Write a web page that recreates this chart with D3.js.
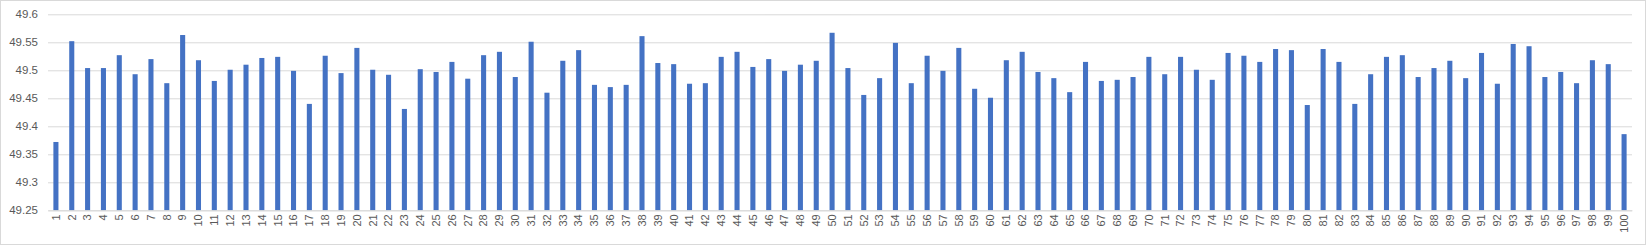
<!DOCTYPE html>
<html>
<head>
<meta charset="utf-8">
<script src="https://cdn.jsdelivr.net/npm/d3@7"></script>
<style>
  body { margin: 0; background: #fff; }
  svg { display: block; }
</style>
</head>
<body>
<svg id="chart"></svg>
<script>
// x categories 1..100
var categories = [];
for (var i = 1; i <= 100; i++) categories.push(String(i));

var values = [
  49.372, 49.552, 49.504, 49.504, 49.527, 49.493, 49.520, 49.477, 49.563, 49.518,
  49.481, 49.501, 49.510, 49.522, 49.524, 49.499, 49.440, 49.526, 49.495, 49.540,
  49.501, 49.492, 49.431, 49.502, 49.497, 49.515, 49.485, 49.527, 49.533, 49.488,
  49.551, 49.460, 49.517, 49.536, 49.474, 49.470, 49.474, 49.561, 49.513, 49.511,
  49.476, 49.477, 49.524, 49.533, 49.506, 49.520, 49.499, 49.510, 49.517, 49.567,
  49.504, 49.456, 49.486, 49.549, 49.477, 49.526, 49.499, 49.540, 49.467, 49.451,
  49.518, 49.533, 49.497, 49.486, 49.461, 49.515, 49.481, 49.483, 49.488, 49.524,
  49.493, 49.524, 49.501, 49.483, 49.531, 49.526, 49.515, 49.538, 49.536, 49.438,
  49.538, 49.515, 49.440, 49.493, 49.524, 49.527, 49.488, 49.504, 49.517, 49.486,
  49.531, 49.476, 49.547, 49.543, 49.488, 49.497, 49.477, 49.518, 49.511, 49.386
];

var yTicks = [49.25, 49.3, 49.35, 49.4, 49.45, 49.5, 49.55, 49.6];

function drawBarChart() {
  var width = 1646, height = 245;
  var margin = {top: 14.3, right: 14, bottom: 34.7, left: 48};
  var w = width - margin.left - margin.right;
  var h = height - margin.top - margin.bottom;

  var svg = d3.select('#chart')
      .attr('width', width)
      .attr('height', height);

  // outer chart border
  svg.append('rect')
      .attr('x', 0.5).attr('y', 0.5)
      .attr('width', width - 1).attr('height', height - 1)
      .attr('fill', '#fff')
      .attr('stroke', '#d9d9d9');

  var g = svg.append('g')
      .attr('transform', 'translate(' + margin.left + ',' + margin.top + ')');

  var x = d3.scaleBand()
      .domain(categories)
      .range([0, w])
      .paddingInner(0.68)
      .paddingOuter(0.34);

  var y = d3.scaleLinear()
      .domain([49.25, 49.6])
      .range([h, 0]);

  // gridlines + y labels
  var yAxis = g.append('g')
      .call(d3.axisLeft(y).tickValues(yTicks).tickSize(-w).tickPadding(10)
            .tickFormat(function(d) { return d3.format('')(+d.toFixed(2)); }));
  yAxis.select('.domain').remove();
  yAxis.selectAll('.tick line').attr('stroke', '#d9d9d9');
  yAxis.selectAll('.tick text')
      .attr('fill', '#595959')
      .style('font-family', 'Liberation Sans, Arial, sans-serif')
      .style('font-size', '11.5px');

  g.selectAll('.bar')
      .data(values)
      .enter().append('rect')
      .attr('class', 'bar')
      .attr('x', function(d, i) { return x(categories[i]); })
      .attr('width', x.bandwidth())
      .attr('y', function(d) { return y(d); })
      .attr('height', function(d) { return h - y(d); })
      .attr('fill', '#4472c4');

  // x axis
  var xAxis = g.append('g')
      .attr('transform', 'translate(0,' + h + ')')
      .call(d3.axisBottom(x).tickSize(0).tickPadding(0));
  xAxis.select('.domain').attr('stroke', '#d9d9d9');
  xAxis.selectAll('.tick text')
      .attr('fill', '#595959')
      .style('font-family', 'Liberation Sans, Arial, sans-serif')
      .style('font-size', '11px')
      .attr('text-anchor', 'end')
      .attr('transform', 'translate(0,4) rotate(-90)')
      .attr('x', 0).attr('y', 0)
      .attr('dy', '0.35em');
}

drawBarChart();
</script>
</body>
</html>
